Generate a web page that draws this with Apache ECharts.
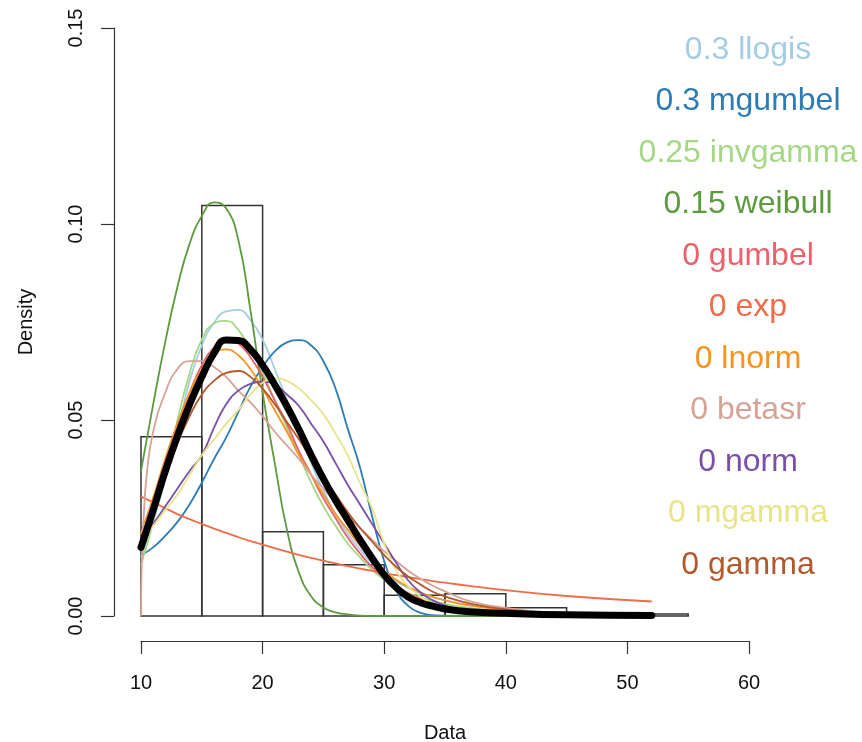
<!DOCTYPE html>
<html>
<head>
<meta charset="utf-8">
<title>Fitted densities</title>
<script src="https://cdn.jsdelivr.net/npm/echarts@6/dist/echarts.min.js"></script>
<style>
html,body{margin:0;padding:0;background:#fff;}
#chart{width:862px;height:742px;}
</style>
</head>
<body>
<div id="chart"></div>
<script>
// histogram (density scale), bins of width 5
var binStart = [10, 15, 20, 25, 30, 35, 40, 45, 50];
var binDensity = [0.0457, 0.1047, 0.0215, 0.0131, 0.0053, 0.0057, 0.0021, 0, 0.0005];
var binWidth = 5;

// x positions where the fitted curves were read
var xGrid = [10,11,12,13,14,15,16,17,18,19,20,21,22,23,24,25,26,27,28,29,30,31,32,33,34,35,37,40,45,52];

var llogis   = [0.015,0.024,0.035,0.047,0.060,0.069,0.0748,0.0777,0.0781,0.0755,0.0705,0.063,0.055,0.047,0.039,0.032,0.026,0.021,0.017,0.0135,0.011,0.0088,0.0071,0.0058,0.0048,0.004,0.0028,0.0017,0.0008,0.0004];
var mgumbel  = [0.0155,0.0175,0.0205,0.024,0.0285,0.034,0.040,0.0455,0.052,0.0585,0.0635,0.0675,0.0698,0.0704,0.069,0.065,0.058,0.0478,0.038,0.0255,0.014,0.0065,0.0025,0.0008,0.0002,0.0001,0,0,0,0];
var invgamma = [0.013,0.024,0.037,0.050,0.062,0.0705,0.0746,0.0753,0.073,0.068,0.062,0.055,0.048,0.041,0.034,0.028,0.023,0.0185,0.015,0.0118,0.0093,0.0074,0.0059,0.0047,0.0038,0.0031,0.0021,0.0012,0.0005,0.0002];
var weibull  = [0.037,0.054,0.070,0.084,0.095,0.102,0.1055,0.104,0.096,0.078,0.057,0.039,0.022,0.011,0.005,0.0022,0.0009,0.0004,0.0001,0,0,0,0,0,0,0,0,0,0,0];
var gumbel   = [0.021,0.030,0.040,0.049,0.057,0.064,0.0685,0.0705,0.0695,0.066,0.061,0.055,0.049,0.042,0.036,0.030,0.025,0.020,0.016,0.0125,0.0097,0.0075,0.0057,0.0043,0.0032,0.0024,0.0013,0.0005,0.0001,0];
var expo     = [0.0305,0.029,0.0275,0.026,0.0247,0.0235,0.0223,0.0212,0.0201,0.0191,0.0182,0.0173,0.0164,0.0156,0.0148,0.0141,0.0134,0.0127,0.0121,0.0115,0.0109,0.0104,0.0099,0.0094,0.0089,0.0085,0.0077,0.0066,0.0051,0.0037];
var lnorm    = [0.021,0.030,0.040,0.049,0.057,0.063,0.067,0.068,0.0665,0.063,0.058,0.0525,0.047,0.041,0.036,0.031,0.026,0.022,0.018,0.0145,0.0115,0.0092,0.0074,0.006,0.0049,0.004,0.0027,0.0015,0.0006,0.0002];
var norm     = [0.0195,0.0235,0.028,0.0325,0.037,0.041,0.048,0.054,0.0575,0.0592,0.0598,0.059,0.0565,0.0535,0.049,0.0445,0.039,0.0335,0.0285,0.0235,0.0185,0.0135,0.009,0.006,0.004,0.0027,0.0011,0.0002,0,0];
var mgamma   = [0.0195,0.023,0.027,0.031,0.036,0.041,0.045,0.049,0.0525,0.0565,0.0595,0.0606,0.060,0.058,0.055,0.0515,0.0465,0.041,0.034,0.0275,0.0185,0.0115,0.0075,0.005,0.003,0.0019,0.0006,0.0001,0,0];
var gamma    = [0.018,0.026,0.035,0.044,0.051,0.0565,0.060,0.062,0.0625,0.061,0.058,0.054,0.0495,0.045,0.040,0.0355,0.031,0.0265,0.0225,0.019,0.0155,0.0125,0.010,0.008,0.0062,0.005,0.0032,0.0017,0.0005,0.0001];
var ensemble = [0.0175,0.027,0.037,0.046,0.054,0.061,0.067,0.0704,0.0703,0.068,0.064,0.059,0.0535,0.0475,0.041,0.035,0.0295,0.0245,0.0195,0.0148,0.0105,0.0072,0.0048,0.0034,0.0025,0.0018,0.0011,0.0007,0.0003,0.0001];

// betasr starts at zero on x = 10, so it gets its own x positions
var betasrX = [10,10.05,10.2,10.5,11,12,13,14,15,16,17,18,19,20,21,22,23,24,25,26,27,28,29,30,31,32,33,34,35,37,40,45,52];
var betasrY = [0,0.012,0.024,0.037,0.047,0.057,0.063,0.065,0.065,0.0635,0.061,0.0575,0.0545,0.051,0.047,0.0435,0.040,0.036,0.0325,0.029,0.0255,0.0225,0.0195,0.0165,0.014,0.0115,0.0095,0.0077,0.0063,0.0038,0.0021,0.0005,0];

// labels on the right: weight + distribution
var fitNames   = ['llogis','mgumbel','invgamma','weibull','gumbel','exp','lnorm','betasr','norm','mgamma','gamma'];
var fitWeights = ['0.3','0.3','0.25','0.15','0','0','0','0','0','0','0'];
var fitColors  = ['#a3cde4','#2d7cb4','#a5d886','#5c9b3d','#e9616b','#f06b48','#f7931f','#d6a297','#7a4fa6','#e9e48b','#b2582a'];
var fitValues  = [llogis, mgumbel, invgamma, weibull, gumbel, expo, lnorm, null, norm, mgamma, gamma];

var font = '"Liberation Sans", Arial, Helvetica, sans-serif';

function pairs(xs, ys) {
    return xs.map(function (x, i) { return [x, ys[i]]; });
}

var myChart = echarts.init(document.getElementById('chart'));

var series = [];

// histogram outline
series.push({
    type: 'custom',
    name: 'hist',
    clip: false,
    data: binStart.map(function (s, i) { return [s, binDensity[i]]; }),
    encode: {x: 0, y: 1},
    renderItem: function (params, api) {
        var x0 = api.value(0), h = api.value(1);
        var p0 = api.coord([x0, h]);
        var p1 = api.coord([x0 + binWidth, 0]);
        return {
            type: 'rect',
            shape: {x: p0[0], y: p0[1], width: p1[0] - p0[0], height: p1[1] - p0[1]},
            style: {fill: 'none', stroke: '#333', lineWidth: 1.5}
        };
    },
    z: 1
});

fitNames.forEach(function (name, i) {
    var data = name === 'betasr' ? pairs(betasrX, betasrY) : pairs(xGrid, fitValues[i]);
    series.push({
        type: 'line',
        name: name,
        data: data,
        smooth: 0.5,
        symbol: 'none',
        clip: false,
        lineStyle: {color: fitColors[i], width: 1.8},
        z: 2
    });
});

series.push({
    type: 'line',
    name: 'ensemble',
    data: pairs(xGrid, ensemble),
    smooth: 0.5,
    symbol: 'none',
    clip: false,
    lineStyle: {color: '#000', width: 7, cap: 'round', join: 'round'},
    z: 3
});

// legend text on the right
var labels = fitNames.map(function (name, i) {
    return {
        type: 'text',
        x: 748,
        y: 50 + i * 51.5,
        style: {
            text: fitWeights[i] + ' ' + name,
            fill: fitColors[i],
            font: '32px ' + font,
            align: 'center',
            verticalAlign: 'middle'
        }
    };
});

var options = {
    animation: false,
    backgroundColor: '#fff',
    grid: {left: 141, right: 113, top: 28, bottom: 126, outerBoundsMode: 'none'},
    xAxis: {
        type: 'value',
        min: 10, max: 60, interval: 10,
        offset: 25,
        name: 'Data',
        nameLocation: 'middle',
        nameGap: 82,
        nameTextStyle: {fontSize: 20, color: '#111', fontFamily: font},
        axisLine: {show: true, onZero: false, lineStyle: {color: '#333', width: 1.2}},
        axisTick: {show: true, length: 13, lineStyle: {color: '#333', width: 1.2}},
        axisLabel: {fontSize: 20, color: '#111', fontFamily: font, margin: 32},
        splitLine: {show: false}
    },
    yAxis: {
        type: 'value',
        min: 0, max: 0.15, interval: 0.05,
        offset: 27,
        name: 'Density',
        nameLocation: 'middle',
        nameGap: 78,
        nameTextStyle: {fontSize: 20, color: '#111', fontFamily: font},
        axisLine: {show: true, onZero: false, lineStyle: {color: '#333', width: 1.2}},
        axisTick: {show: true, length: 13, lineStyle: {color: '#333', width: 1.2}},
        axisLabel: {
            fontSize: 20, color: '#111', fontFamily: font, margin: 28, rotate: 90,
            formatter: function (v) { return v.toFixed(2); }
        },
        splitLine: {show: false}
    },
    graphic: labels,
    series: series
};

myChart.setOption(options);
</script>
</body>
</html>
